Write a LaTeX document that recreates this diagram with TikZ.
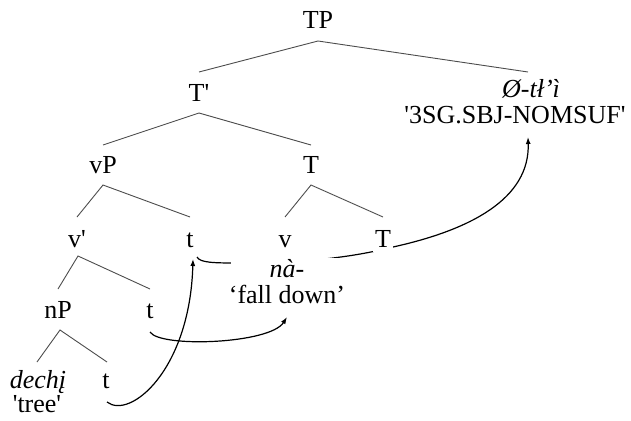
\documentclass[tikz,border=0pt]{standalone}
\usepackage{fontspec}
\setmainfont{Liberation Serif}
\usetikzlibrary{arrows.meta,calc,backgrounds}
\begin{document}
\begin{tikzpicture}[x=1pt,y=-1pt,
  lbl/.style={anchor=base,inner sep=1pt,font=\fontsize{26}{28}\selectfont},
  cover/.style={lbl,fill=white},
  branch/.style={draw=black!70,line width=0.9pt},
  move/.style={draw=black,line width=1.2pt},
  tip/.style={-{Latex[length=7pt,width=5pt]}},
]
\useasboundingbox (0,0) rectangle (631,420);
% nodes
\node[lbl] (TP) at (318,29) {TP};
\node[lbl] (Tbar) at (199,101) {T\textquotesingle};
\node[lbl] (phi) at (531,97) {\itshape Ø-tł’ì};
\node[lbl] (sg) at (515,123) {\textquotesingle 3SG.SBJ-NOMSUF\textquotesingle};
\node[lbl] (vP) at (103,173) {vP};
\node[lbl] (T) at (311,173) {T};
\node[lbl] (vbar) at (77,247) {v\textquotesingle};
\node[lbl] (t1) at (190,247) {t};
\node[lbl] (v) at (285,247) {v};
\node[cover,inner xsep=2pt,inner ysep=5pt] (T2) at (383,247) {T};
\node[cover,minimum width=112pt] (na) at (287,277) {\textit{nà}-};
\node[cover] (fall) at (287,303) {‘fall down’};
\node[lbl] (nP) at (58,318) {nP};
\node[lbl] (t2) at (150,318) {t};
\node[lbl] (dech) at (38,388) {\itshape dechį};
\node[lbl] (t3) at (106,388) {t};
\node[lbl] (tree) at (37,412) {\textquotesingle tree\textquotesingle};
% branches
\draw[branch] ($(Tbar.base)+(0,-29)$) -- ($(TP.base)+(0,12)$) -- ($(phi.base)+(-3,-25)$);
\draw[branch] ($(vP.base)+(0,-28)$) -- ($(Tbar.base)+(0,12)$) -- ($(T.base)+(0,-28)$);
\draw[branch] ($(vbar.base)+(0,-30)$) -- ($(vP.base)+(0,12)$) -- ($(t1.base)+(0,-30)$);
\draw[branch] ($(v.base)+(0,-30)$) -- ($(T.base)+(0,12)$) -- ($(T2.base)+(0,-30)$);
\draw[branch] ($(nP.base)+(0,-29)$) -- ($(vbar.base)+(1,9)$) -- ($(t2.base)+(0,-29)$);
\draw[branch] ($(dech.base)+(-1,-26)$) -- ($(nP.base)+(2,12)$) -- ($(t3.base)+(1,-26)$);
% movement arrows
\draw[move,tip] ($(t3.base)+(1,14)$) .. controls +(23,18) and +(-3,111) .. ($(t1.base)+(3,12)$);
\draw[move,tip] ($(t2.base)+(0,14)$) .. controls +(10,16) and +(-17,27) .. ($(fall.base)+(0,14)$);
\begin{pgfonlayer}{background}
\draw[move,tip] ($(t1.base)+(7,10)$) .. controls +(3,6) and +(-25,0) .. ($(t1.base)+(50,16)$)
  .. controls +(60,0) and +(-43,11) .. ($(T2.base)+(10,0)$)
  .. controls +(77,-17) and +(2,62) .. ($(sg.base)+(13,14)$);
\end{pgfonlayer}
\end{tikzpicture}
\end{document}
